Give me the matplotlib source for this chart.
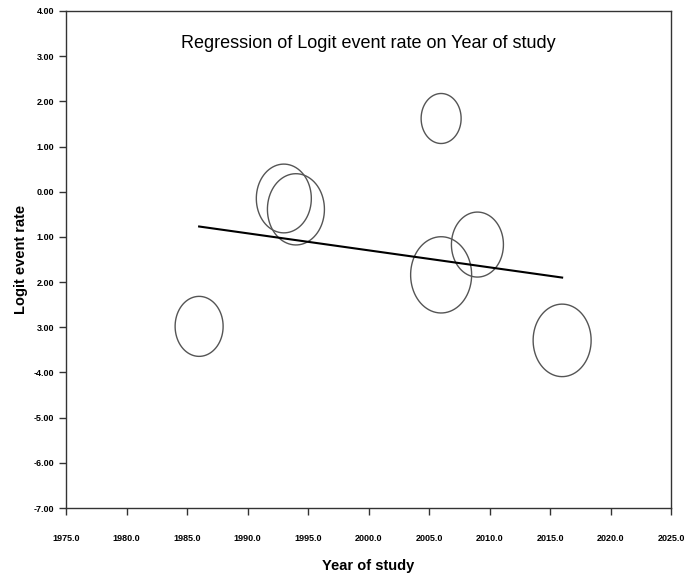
import numpy as np
import matplotlib
matplotlib.use("Agg")
import matplotlib.pyplot as plt
from matplotlib.path import Path
from matplotlib.markers import MarkerStyle

plt.rcParams['font.family'] = ['Liberation Sans', 'DejaVu Sans']

# studies: year, logit event rate, bubble width (relative weight)
year = [1986, 1993, 1994, 2006, 2006, 2009, 2016]
logit = [-2.98, -0.15, -0.39, 1.62, -1.84, -1.17, -3.29]
weight = [48, 55, 57, 40, 61, 52, 58]

# fitted regression line
fit_x = [1986, 2016]
fit_y = [-0.77, -1.90]

x_ticks = [1975, 1980, 1985, 1990, 1995, 2000, 2005, 2010, 2015, 2020, 2025]
y_ticks = [4, 3, 2, 1, 0, -1, -2, -3, -4, -5, -6, -7]
y_labels = ['4.00', '3.00', '2.00', '1.00', '0.00', '1.00', '2.00', '3.00',
            '-4.00', '-5.00', '-6.00', '-7.00']

# slightly tall ellipse marker
t = np.linspace(0, 2 * np.pi, 80)
ell = Path(np.column_stack([np.cos(t), 1.25 * np.sin(t)]))
marker = MarkerStyle(ell)

fig = plt.figure(figsize=(6.92, 5.76), dpi=100)
ax = fig.add_axes([0.0954, 0.118, 0.8743, 0.863])

sizes = [(w * 1.25 * 0.72) ** 2 for w in weight]
ax.scatter(year, logit, s=sizes, marker=marker, facecolors='none',
           edgecolors='#555555', linewidths=1.0, zorder=2)
ax.plot(fit_x, fit_y, color='black', lw=1.5, zorder=3)

ax.set_xlim(1975, 2025)
ax.set_ylim(-7, 4)
ax.set_xticks(x_ticks)
ax.set_xticklabels([f"{v:.1f}" for v in x_ticks])
ax.set_yticks(y_ticks)
ax.set_yticklabels(y_labels)
ax.tick_params(direction='out', length=5, width=1, labelsize=6.5,
               top=False, right=False, color='#333333')
ax.tick_params(axis='x', pad=14)
for lab in ax.get_xticklabels() + ax.get_yticklabels():
    lab.set_fontweight('bold')
for sp in ax.spines.values():
    sp.set_color('#333333')
    sp.set_linewidth(1.0)

ax.text(0.5, 0.934, 'Regression of Logit event rate on Year of study',
        transform=ax.transAxes, ha='center', va='center', fontsize=13)
ax.set_xlabel('Year of study', fontsize=10.5, fontweight='bold', labelpad=11)
ax.set_ylabel('Logit event rate', fontsize=10.5, fontweight='bold', labelpad=4)

fig.savefig('out.png', dpi=100)
